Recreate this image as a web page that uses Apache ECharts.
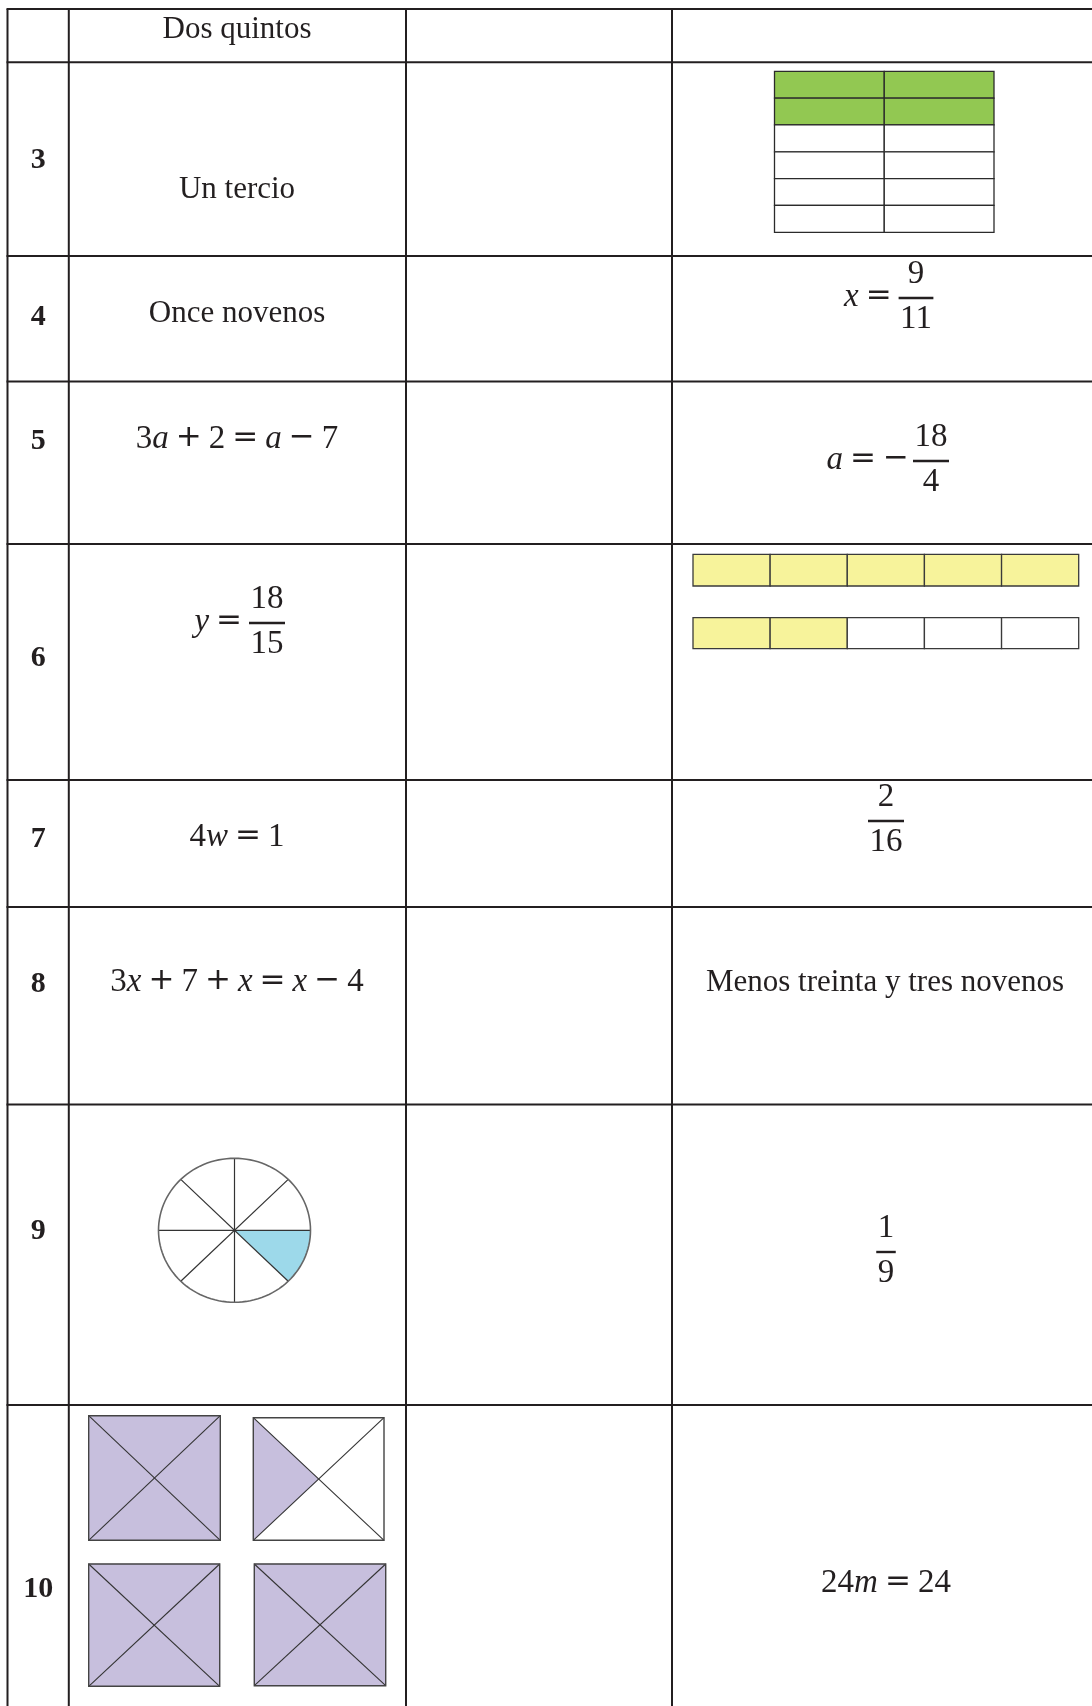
<!DOCTYPE html>
<html>
<head>
<meta charset="utf-8">
<title>Fracciones y ecuaciones</title>
<script src="https://cdn.jsdelivr.net/npm/echarts@6/dist/echarts.min.js"></script>
<style>
  html, body { margin: 0; padding: 0; background: #fff; }
  #chart { width: 1092px; height: 1706px; }
</style>
</head>
<body>
<div id="chart"></div>
<script>
// contenido de la tabla
const rowNumbers = ['', '3', '4', '5', '6', '7', '8', '9', '10'];
const wordCells = ['Dos quintos', 'Un tercio', 'Once novenos', 'Menos treinta y tres novenos'];
const equationCells = ['3a+2=a−7', '4w=1', '3x+7+x=x−4', '24m=24'];
const fractionPrefixes = ['x=', 'a=−', 'y=', '', ''];
const fractionNumerators = ['9', '18', '18', '2', '1'];
const fractionDenominators = ['11', '4', '15', '16', '9'];
const stripParts = [5, 5];
const stripShaded = [5, 2];
const boxRows = 6;
const boxCols = 2;
const boxShadedRows = 2;
const pieSlices = 8;
const pieShaded = 1;
const squareShadedQuarters = [4, 1, 4, 4];

// layout, in the units of the hidden axes (1 unit = 1 px)
const W = 1092, H = 1706;
const colEdges = [7.5, 68.8, 406, 672, 1110];
const rowEdges = [9, 62.3, 256, 381.5, 544, 780, 907, 1104.5, 1405, 1730];
const rowNumberY = [0, 159, 316, 440, 657, 838, 983, 1230, 1588];
const wordPos = [[237, 29], [237, 189], [237, 313], [885, 982]];
const equationPos = [[237, 440], [237, 838], [237, 983], [886, 1584]];
const fractionPos = [[916, 298], [931, 461], [267, 623], [886, 821], [886, 1252]];
const boxRect = [774.5, 71.3, 994, 232.3];
const stripRects = [[693, 554.3, 1078.7, 586], [693, 617.7, 1078.7, 648.7]];
const pieCenter = [234.5, 1230.3];
const pieRadius = [76, 72];
const squareRects = [[88.7, 1415.7, 220.3, 1540.3], [253.3, 1417.7, 384, 1540.3],
                     [88.7, 1564, 219.7, 1686.3], [254.3, 1564, 385.7, 1685.7]];

const INK = '#231f20';
const SERIF = '"Liberation Serif", "Times New Roman", serif';
const WORD_FONT = '31px ' + SERIF;
const NUMBER_FONT = 'bold 30px ' + SERIF;
const MATH_PX = 33;
const MATH_FONT = MATH_PX + 'px ' + SERIF;
const MATH_ITALIC = 'italic ' + MATH_PX + 'px ' + SERIF;
const OP_FONT = '31px "DejaVu Sans", sans-serif';

const measureCtx = document.createElement('canvas').getContext('2d');
function textWidth (str, font) {
  measureCtx.font = font;
  return measureCtx.measureText(str).width;
}

function textEl (str, x, y, font, align) {
  return {
    type: 'text', x: x, y: y,
    style: {
      text: str, font: font, fill: INK,
      align: align, verticalAlign: 'middle',
      textAlign: align, textVerticalAlign: 'middle'
    }
  };
}

// letters italic, digits upright, binary operators with space around them
function mathEls (expr, x, y, align) {
  const toks = [];
  let prev = null;
  for (const ch of expr) {
    let kind = 'n';
    if (/[a-z]/.test(ch)) kind = 'v';
    else if ('+=−'.includes(ch)) kind = (ch === '−' && (prev === null || prev === 'o')) ? 'u' : 'o';
    const font = kind === 'v' ? MATH_ITALIC : (kind === 'n' ? MATH_FONT : OP_FONT);
    const padL = kind === 'o' ? 7 : 0;
    const padR = kind === 'o' ? 7 : (kind === 'u' ? 4 : 0);
    toks.push({ ch, font, padL, padR, dy: kind === 'n' || kind === 'v' ? 0 : -1, w: textWidth(ch, font) });
    prev = kind;
  }
  const total = toks.reduce((s, t) => s + t.padL + t.w + t.padR, 0);
  let cx = align === 'center' ? x - total / 2 : (align === 'right' ? x - total : x);
  const els = [];
  toks.forEach(t => {
    cx += t.padL;
    els.push(textEl(t.ch, cx, y + t.dy, t.font, 'left'));
    cx += t.w + t.padR;
  });
  return els;
}

function layer (name, draw) {
  return {
    name: name,
    type: 'custom',
    coordinateSystem: 'cartesian2d',
    clip: false,
    silent: true,
    data: [[0, 0]],
    renderItem: function (params, api) {
      const p = (x, y) => api.coord([x, y]);
      return { type: 'group', children: draw(p) };
    }
  };
}

function ellipsePts (p, a0, a1, steps) {
  const c = p(pieCenter[0], pieCenter[1]);
  const pts = [];
  for (let i = 0; i <= steps; i++) {
    const t = (a0 + (a1 - a0) * i / steps) * Math.PI / 180;
    pts.push([c[0] + pieRadius[0] * Math.cos(t), c[1] + pieRadius[1] * Math.sin(t)]);
  }
  return pts;
}

const tableLayer = layer('tabla', p => {
  const els = [];
  const lineStyle = { stroke: INK, lineWidth: 2 };
  colEdges.forEach(x => {
    const a = p(x, rowEdges[0]), b = p(x, rowEdges[rowEdges.length - 1]);
    els.push({ type: 'line', shape: { x1: a[0], y1: a[1], x2: b[0], y2: b[1] }, style: lineStyle });
  });
  rowEdges.forEach(y => {
    const a = p(colEdges[0] - 1, y), b = p(colEdges[colEdges.length - 1], y);
    els.push({ type: 'line', shape: { x1: a[0], y1: a[1], x2: b[0], y2: b[1] }, style: lineStyle });
  });
  return els;
});

const textLayer = layer('textos', p => {
  const els = [];
  const numX = (colEdges[0] + colEdges[1]) / 2;
  rowNumbers.forEach((n, i) => {
    if (!n) return;
    const q = p(numX, rowNumberY[i]);
    els.push(textEl(n, q[0], q[1] + 1, NUMBER_FONT, 'center'));
  });
  wordCells.forEach((w, i) => {
    const q = p(wordPos[i][0], wordPos[i][1]);
    els.push(textEl(w, q[0], q[1] + 1, WORD_FONT, 'center'));
  });
  equationCells.forEach((e, i) => {
    const q = p(equationPos[i][0], equationPos[i][1]);
    els.push(...mathEls(e, q[0], q[1] - 1, 'center'));
  });
  return els;
});

const fractionLayer = layer('fracciones', p => {
  const els = [];
  fractionNumerators.forEach((num, i) => {
    const den = fractionDenominators[i];
    const q = p(fractionPos[i][0], fractionPos[i][1]);
    const barW = Math.max(textWidth(num, MATH_FONT), textWidth(den, MATH_FONT)) + 3;
    els.push({ type: 'rect', shape: { x: q[0] - barW / 2, y: q[1] - 1.2, width: barW, height: 2.4 }, style: { fill: INK } });
    els.push(textEl(num, q[0], q[1] - 24, MATH_FONT, 'center'));
    els.push(textEl(den, q[0], q[1] + 21, MATH_FONT, 'center'));
    if (fractionPrefixes[i]) els.push(...mathEls(fractionPrefixes[i], q[0] - barW / 2, q[1] - 1, 'right'));
  });
  return els;
});

const boxLayer = layer('rectangulo', p => {
  const els = [];
  const a = p(boxRect[0], boxRect[1]), b = p(boxRect[2], boxRect[3]);
  const cw = (b[0] - a[0]) / boxCols, ch = (b[1] - a[1]) / boxRows;
  for (let r = 0; r < boxRows; r++) {
    for (let c = 0; c < boxCols; c++) {
      els.push({
        type: 'rect',
        shape: { x: a[0] + c * cw, y: a[1] + r * ch, width: cw, height: ch },
        style: { fill: r < boxShadedRows ? '#92c852' : '#fff', stroke: '#2b2b2b', lineWidth: 1.3 }
      });
    }
  }
  return els;
});

const stripLayer = layer('tiras', p => {
  const els = [];
  stripRects.forEach((sr, k) => {
    const a = p(sr[0], sr[1]), b = p(sr[2], sr[3]);
    const pw = (b[0] - a[0]) / stripParts[k];
    for (let i = 0; i < stripParts[k]; i++) {
      els.push({
        type: 'rect',
        shape: { x: a[0] + i * pw, y: a[1], width: pw, height: b[1] - a[1] },
        style: { fill: i < stripShaded[k] ? '#f7f39b' : '#fff', stroke: '#3a3a3a', lineWidth: 1.3 }
      });
    }
  });
  return els;
});

const pieLayer = layer('circulo', p => {
  const els = [];
  const c = p(pieCenter[0], pieCenter[1]);
  const step = 360 / pieSlices;
  els.push({ type: 'polygon', shape: { points: ellipsePts(p, 0, 360, 120) }, style: { fill: '#fff', stroke: 'none' } });
  for (let k = 0; k < pieShaded; k++) {
    const pts = [c].concat(ellipsePts(p, k * step, (k + 1) * step, 20));
    els.push({ type: 'polygon', shape: { points: pts }, style: { fill: '#9dd9ea' } });
  }
  for (let k = 0; k < pieSlices / 2; k++) {
    const e1 = ellipsePts(p, k * step, k * step, 1)[0];
    const e2 = ellipsePts(p, k * step + 180, k * step + 180, 1)[0];
    els.push({ type: 'line', shape: { x1: e1[0], y1: e1[1], x2: e2[0], y2: e2[1] }, style: { stroke: '#333', lineWidth: 1.2 } });
  }
  els.push({ type: 'polygon', shape: { points: ellipsePts(p, 0, 360, 120) }, style: { fill: 'none', stroke: '#666', lineWidth: 1.6 } });
  return els;
});

const squareLayer = layer('cuadrados', p => {
  const els = [];
  squareRects.forEach((sr, k) => {
    const tl = p(sr[0], sr[1]), br = p(sr[2], sr[3]);
    const tr = [br[0], tl[1]], bl = [tl[0], br[1]];
    const c = [(tl[0] + br[0]) / 2, (tl[1] + br[1]) / 2];
    const quarters = [[tl, c, bl], [tl, tr, c], [tr, br, c], [bl, br, c]];
    els.push({ type: 'rect', shape: { x: tl[0], y: tl[1], width: br[0] - tl[0], height: br[1] - tl[1] }, style: { fill: '#fff' } });
    quarters.slice(0, squareShadedQuarters[k]).forEach(q => {
      els.push({ type: 'polygon', shape: { points: q }, style: { fill: '#c7bfdd', stroke: '#c7bfdd', lineWidth: 0.5 } });
    });
    els.push({ type: 'line', shape: { x1: tl[0], y1: tl[1], x2: br[0], y2: br[1] }, style: { stroke: '#333', lineWidth: 1.1 } });
    els.push({ type: 'line', shape: { x1: tr[0], y1: tr[1], x2: bl[0], y2: bl[1] }, style: { stroke: '#333', lineWidth: 1.1 } });
    els.push({ type: 'rect', shape: { x: tl[0], y: tl[1], width: br[0] - tl[0], height: br[1] - tl[1] }, style: { fill: 'none', stroke: '#444', lineWidth: 1.4 } });
  });
  return els;
});

const chart = echarts.init(document.getElementById('chart'));
chart.setOption({
  animation: false,
  backgroundColor: '#fff',
  grid: { left: 0, right: 0, top: 0, bottom: 0, outerBoundsMode: 'none', containLabel: false },
  xAxis: {
    type: 'value', min: 0, max: W, show: false,
    axisLine: { show: false }, axisTick: { show: false }, axisLabel: { show: false }, splitLine: { show: false }
  },
  yAxis: {
    type: 'value', min: 0, max: H, inverse: true, show: false,
    axisLine: { show: false }, axisTick: { show: false }, axisLabel: { show: false }, splitLine: { show: false }
  },
  series: [tableLayer, boxLayer, stripLayer, pieLayer, squareLayer, textLayer, fractionLayer]
});
</script>
</body>
</html>
